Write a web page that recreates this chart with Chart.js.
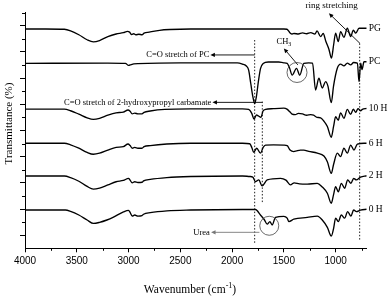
<!DOCTYPE html>
<html><head><meta charset="utf-8">
<script src="https://cdn.jsdelivr.net/npm/chart.js@4.4.1/dist/chart.umd.min.js"></script>
<style>html,body{margin:0;padding:0;background:#fff}</style>
</head><body>
<canvas id="c" width="392" height="297"></canvas>
<script>
// ---- tick labels ----
const xTickLabels = [4000, 3500, 3000, 2500, 2000, 1500, 1000];
const xMinorTicks = [3750, 3250, 2750, 2250, 1750, 1250, 750];
const yMajorTicks = [5, 15, 25, 35, 45, 55, 65, 75, 85];
const yMinorTicks = [10, 20, 30, 40, 50, 60, 70, 80, 90];
const seriesNames = ['PG', 'PC', '10 H', '6 H', '2 H', '0 H'];

// ---- spectra: wavenumber (cm-1) and transmittance (offset, a.u.) ----
const pgWn = [4000,3800,3620,3560,3480,3400,3340,3280,3200,3120,3050,3010,2990,2970,2950,2930,2900,2870,2850,2800,2700,2600,2400,2000,1500,1470,1440,1420,1400,1360,1320,1280,1240,1200,1180,1145,1120,1095,1065,1040,1020,1000,975,952,920,887,855,829,806,774,742,700];
const pgT  = [83.7,83.7,83.6,83.0,81.5,79.6,78.8,79.3,80.8,81.8,82.3,82.8,82.5,81.6,81.9,81.5,81.7,81.5,82.1,82.5,83.2,83.5,83.7,83.7,83.7,83.6,82.2,81.8,82.0,81.8,82.2,81.9,82.3,81.8,83.0,80.8,82.0,79.0,76.0,72.6,77.5,82.1,78.9,82.7,80.5,84.0,80.8,83.3,82.1,84.0,84.0,84.0];

const pcWn = [4000,3200,3030,3000,2975,2950,2500,1950,1900,1860,1840,1820,1800,1782,1765,1745,1725,1700,1650,1550,1500,1468,1445,1420,1378,1346,1307,1261,1223,1194,1162,1129,1097,1075,1042,1020,984,952,920,887,855,826,790,774,758,745,726,700];
const pcT  = [70.6,70.7,70.6,69.8,70.1,70.4,70.8,70.8,70.3,69.5,68.0,63.0,58.0,55.2,58.0,64.0,68.7,70.5,71.1,71.1,70.8,70.6,68.8,66.1,68.7,66.1,70.6,70.8,70.7,60.4,64.9,61.2,63.6,62.0,55.6,62.0,68.7,70.3,69.6,70.7,70.0,70.9,70.7,63.6,70.7,68.2,71.2,71.2];

const h10Wn = [4000,3620,3560,3480,3400,3340,3280,3200,3120,3050,3005,2985,2965,2940,2910,2870,2850,2790,2650,2400,1900,1840,1810,1788,1765,1745,1722,1700,1677,1600,1500,1470,1440,1420,1390,1360,1320,1280,1240,1213,1180,1145,1113,1080,1042,1020,1000,975,952,920,887,855,829,806,784,758,742,700];
const h10T  = [53.1,53.1,52.5,51.2,49.8,49.2,49.6,50.8,51.7,52.0,52.8,52.3,51.3,51.6,51.3,51.3,51.9,52.4,53.0,53.2,53.2,53.0,51.5,49.3,50.9,50.5,50.0,52.5,53.0,53.3,53.5,53.1,52.0,51.2,51.0,51.5,51.3,50.8,51.0,50.8,50.0,49.8,48.5,46.5,42.4,46.5,50.2,48.9,51.7,49.6,53.0,51.1,53.1,51.9,53.3,52.5,53.0,53.4];

const h6Wn = [4000,3620,3560,3480,3400,3340,3280,3200,3120,3050,3005,2985,2965,2940,2910,2870,2850,2790,2630,2400,1900,1830,1810,1791,1762,1726,1700,1677,1600,1500,1468,1440,1404,1378,1340,1307,1260,1177,1113,1080,1042,1020,984,952,920,887,855,823,790,726,700];
const h6T  = [40.1,40.1,39.5,38.2,36.6,35.9,36.3,37.5,38.5,38.8,39.8,39.2,38.2,38.5,38.2,38.2,38.8,39.2,39.8,40.1,40.1,39.9,38.5,36.6,38.2,36.3,38.5,39.4,39.5,39.4,39.2,37.5,36.9,37.2,37.5,37.5,37.0,36.3,35.2,33.0,28.6,32.0,36.3,35.0,38.2,36.3,39.4,37.5,39.8,40.1,40.1];

const h2Wn = [4000,3620,3560,3480,3400,3340,3280,3200,3120,3050,3000,2985,2965,2940,2910,2870,2855,2790,2630,2400,1900,1830,1800,1775,1742,1710,1661,1532,1480,1436,1400,1350,1274,1177,1129,1080,1042,1020,1000,974,945,913,884,852,826,800,760,700];
const h2T  = [27.6,27.6,27.0,25.6,23.6,22.6,23.0,24.2,25.4,25.9,26.7,26.0,25.0,25.4,25.1,25.2,25.7,26.3,27.0,27.4,27.6,27.4,27.2,25.4,26.1,23.8,26.1,26.7,26.0,24.2,25.0,24.6,24.5,24.8,23.4,21.0,17.2,20.5,23.5,21.6,24.8,22.9,26.1,24.8,26.7,26.1,27.2,27.7];

const h0Wn = [4000,3610,3560,3480,3400,3339,3280,3209,3150,3049,3000,2985,2965,2940,2910,2870,2855,2790,2629,2400,1900,1774,1726,1690,1661,1635,1613,1581,1500,1468,1452,1404,1274,1177,1129,1080,1042,1020,1000,974,945,913,884,852,826,800,760,700];
const h0T  = [14.6,14.6,14.1,12.7,10.8,9.5,9.9,10.8,11.8,13.9,14.5,13.7,12.3,12.7,12.3,12.5,13.0,13.6,14.3,14.6,14.8,14.8,12.7,11.0,9.2,10.2,8.9,11.8,12.2,11.5,10.2,11.1,11.8,12.3,10.8,8.0,4.7,7.5,11.5,10.2,12.7,11.5,14.0,12.3,14.6,14.0,14.6,14.9];

// ---- reference (dotted) lines ----
const refWn     = [1782, 1708, 768];
const refTop    = [79.5, 56.0, 78.2];
const refBottom = [1.9, 17.2, 3.2];

// ---- annotations (data coordinates) ----
const annoTexts = [
  {text: 'C=O stretch of PC', wn: 2219, t: 73.8, align: 'right', size: 8.5},
  {text: 'C=O stretch of 2-hydroxypropyl carbamate', wn: 2200, t: 55.7, align: 'right', size: 8.5},
  {text: 'Urea', wn: 2215, t: 6.1, align: 'right', size: 8.5},
  {text: 'ring stretching', wn: 1039, t: 92.6, align: 'center', size: 9}
];
const annoArrows = [
  {from: [1782, 73.8], to: [2210, 73.8], color: '#000'},
  {from: [1708, 55.7], to: [2190, 55.7], color: '#000'},
  {from: [1736, 6.1], to: [2203, 6.1], color: '#777'},
  {from: [765, 78.2], to: [1065, 89.7], color: '#000'},
  {from: [1365, 70.0], to: [1500, 76.3], color: '#000'}
];
const annoCircles = [
  {wn: 1373, t: 67.1, r: 10},
  {wn: 1641, t: 8.6, r: 9.5}
];
const ch3Label = {wn: 1571, t: 78.9};

const spectra = [[pgWn,pgT],[pcWn,pcT],[h10Wn,h10T],[h6Wn,h6T],[h2Wn,h2T],[h0Wn,h0T]];
const datasets = spectra.map((s, i) => ({
  label: seriesNames[i],
  data: s[0].map((w, j) => ({x: w, y: s[1][j]})),
  borderColor: '#000', borderWidth: 1.35, pointRadius: 0, fill: false,
  cubicInterpolationMode: 'monotone'
}));
refWn.forEach((w, i) => datasets.push({
  label: 'ref' + i,
  data: [{x: w, y: refTop[i]}, {x: w, y: refBottom[i]}],
  borderColor: '#222', borderWidth: 1, borderDash: [1.5, 1.8], pointRadius: 0, fill: false
}));

const SERIF = '"Liberation Serif", "Times New Roman", serif';

function arrow(ctx, x1, y1, x2, y2, color) {
  const a = Math.atan2(y2 - y1, x2 - x1), L = 4.5, W = 2.1;
  ctx.strokeStyle = color; ctx.fillStyle = color; ctx.lineWidth = 0.9;
  ctx.beginPath(); ctx.moveTo(x1, y1);
  ctx.lineTo(x2 - L * 0.7 * Math.cos(a), y2 - L * 0.7 * Math.sin(a)); ctx.stroke();
  ctx.beginPath(); ctx.moveTo(x2, y2);
  ctx.lineTo(x2 - L * Math.cos(a) + W * Math.sin(a), y2 - L * Math.sin(a) - W * Math.cos(a));
  ctx.lineTo(x2 - L * Math.cos(a) - W * Math.sin(a), y2 - L * Math.sin(a) + W * Math.cos(a));
  ctx.closePath(); ctx.fill();
}

const annoPlugin = {
  id: 'anno',
  afterDraw(chart) {
    const {ctx, chartArea: ca} = chart;
    const xs = chart.scales.x, ys = chart.scales.y;
    const X = v => xs.getPixelForValue(v), Y = v => ys.getPixelForValue(v);
    ctx.save();
    // minor ticks
    ctx.strokeStyle = '#000'; ctx.lineWidth = 1;
    ctx.beginPath();
    xMinorTicks.forEach(v => { const p = Math.round(X(v)) + 0.5; ctx.moveTo(p, ca.bottom); ctx.lineTo(p, ca.bottom + 2.5); });
    yMinorTicks.forEach(v => { const p = Math.round(Y(v)) + 0.5; ctx.moveTo(ca.left, p); ctx.lineTo(ca.left - 3, p); });
    ctx.stroke();
    // axis titles
    ctx.fillStyle = '#000';
    ctx.font = '11px ' + SERIF;
    ctx.save();
    ctx.translate(9, 123.5); ctx.rotate(-Math.PI / 2);
    ctx.textAlign = 'center'; ctx.textBaseline = 'middle';
    ctx.fillText('Transmittance (%)', 0, 0);
    ctx.restore();
    const p1 = 'Wavenumber (cm', p2 = '-1', p3 = ')';
    ctx.font = '11.5px ' + SERIF;
    const w1 = ctx.measureText(p1).width, w3 = ctx.measureText(p3).width;
    ctx.font = '8px ' + SERIF;
    const w2 = ctx.measureText(p2).width;
    let tx = 190 - (w1 + w2 + w3) / 2;
    ctx.textAlign = 'left'; ctx.textBaseline = 'middle';
    ctx.font = '11.5px ' + SERIF; ctx.fillText(p1, tx, 290);
    ctx.font = '8px ' + SERIF; ctx.fillText(p2, tx + w1, 286);
    ctx.font = '11.5px ' + SERIF; ctx.fillText(p3, tx + w1 + w2, 290);
    // series labels
    ctx.font = '9.5px ' + SERIF;
    ctx.textAlign = 'left'; ctx.textBaseline = 'middle';
    spectra.forEach((s, i) => {
      const t = s[1][s[1].length - 1];
      ctx.fillText(seriesNames[i], ca.right + 2, Y(t));
    });
    // annotation texts
    annoTexts.forEach(a => {
      ctx.font = a.size + 'px ' + SERIF;
      ctx.textAlign = a.align; ctx.textBaseline = 'middle';
      ctx.fillStyle = '#000';
      ctx.fillText(a.text, X(a.wn), Y(a.t));
    });
    // CH3
    ctx.textAlign = 'left'; ctx.textBaseline = 'middle';
    ctx.font = '8.5px ' + SERIF;
    const cx = X(ch3Label.wn), cy = Y(ch3Label.t);
    ctx.fillText('CH', cx, cy);
    const cw = ctx.measureText('CH').width;
    ctx.font = '6px ' + SERIF;
    ctx.fillText('3', cx + cw, cy + 2.5);
    // arrows
    annoArrows.forEach(a => arrow(ctx, X(a.from[0]), Y(a.from[1]), X(a.to[0]), Y(a.to[1]), a.color));
    // circles
    ctx.strokeStyle = '#444'; ctx.lineWidth = 0.8;
    annoCircles.forEach(c => { ctx.beginPath(); ctx.arc(X(c.wn), Y(c.t), c.r, 0, Math.PI * 2); ctx.stroke(); });
    ctx.restore();
  }
};

new Chart(document.getElementById('c'), {
  type: 'line',
  data: {datasets},
  options: {
    responsive: false, animation: false, devicePixelRatio: 1,
    layout: {padding: {left: 0, top: 12.5, right: 25.3, bottom: 0}},
    plugins: {legend: {display: false}, tooltip: {enabled: false}},
    scales: {
      x: {
        type: 'linear', reverse: true, min: 700, max: 4000,
        afterBuildTicks: s => { s.ticks = xTickLabels.map(v => ({value: v})); },
        afterFit: s => { s.height = 48.7; },
        ticks: {color: '#000', font: {family: '"Liberation Sans", Arial, sans-serif', size: 10}, maxRotation: 0, autoSkip: false, padding: 3, callback: v => String(v)},
        grid: {drawOnChartArea: false, drawTicks: true, tickLength: 4, color: '#000'},
        border: {display: true, color: '#000', width: 1}
      },
      y: {
        type: 'linear', min: 0, max: 90,
        afterBuildTicks: s => { s.ticks = yMajorTicks.map(v => ({value: v})); },
        afterFit: s => { s.width = 25; },
        ticks: {display: false},
        grid: {drawOnChartArea: false, drawTicks: true, tickLength: 5, color: '#000'},
        border: {display: true, color: '#000', width: 1}
      }
    }
  },
  plugins: [annoPlugin]
});
</script>
</body></html>
